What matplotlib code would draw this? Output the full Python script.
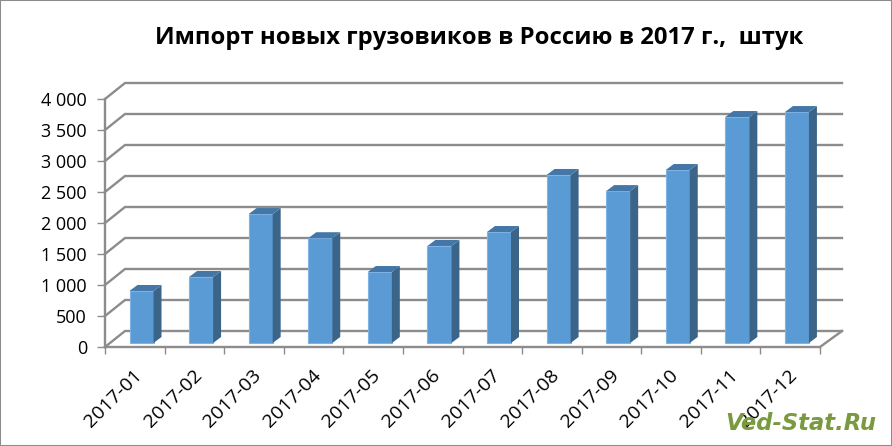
import matplotlib
matplotlib.use("Agg")
import matplotlib.pyplot as plt
from matplotlib.patches import Polygon, Rectangle

months = ["2017-01", "2017-02", "2017-03", "2017-04", "2017-05", "2017-06",
          "2017-07", "2017-08", "2017-09", "2017-10", "2017-11", "2017-12"]
imports = [839, 1065, 2080, 1690, 1145, 1565, 1790, 2710, 2450, 2790, 3645, 3725]
y_ticks = [0, 500, 1000, 1500, 2000, 2500, 3000, 3500, 4000]
y_labels = ["0", "500", "1 000", "1 500", "2 000", "2 500", "3 000", "3 500", "4 000"]

W, H = 892, 446
plt.rcParams['font.family'] = ['Open Sans', 'DejaVu Sans']

fig = plt.figure(figsize=(W / 100, H / 100), dpi=100)
ax = fig.add_axes([105 / W, (H - 347) / H, 715 / W, 248 / H])
ax.set_xlim(0, 12)
ax.set_ylim(0, 4000)

# one pixel in data units, for the fake 3d depth
px = 12 / 715
py = 4000 / 248
GRAY = "#8c8c8c"

# back wall lines and the diagonals going to them
for t in y_ticks:
    ax.plot([0, 20 * px, 12 + 22 * px], [t, t + 16 * py, t + 16 * py], color=GRAY, lw=1.7,
            clip_on=False, zorder=1, solid_joinstyle="miter")
ax.plot([12, 12 + 22 * px], [0, 16 * py], color=GRAY, lw=1.7, clip_on=False, zorder=1)

# bars: front face with bar(), side and top as polygons
bar_w = 24 * px
lift = 4 * py
dx = 8 * px
dy = 6 * py
for i, v in enumerate(imports):
    left = i + 24.5 * px
    right = left + bar_w
    top = v + lift
    ax.bar(left, v, width=bar_w, bottom=lift, align="edge", color="#5b9bd5", edgecolor="#7fb3e6",
           linewidth=0.8, clip_on=False, zorder=3)
    ax.add_patch(Polygon([(right, lift), (right + dx, lift + dy), (right + dx, top + dy), (right, top)],
                         closed=True, color="#3a6589", lw=0, clip_on=False, zorder=3))
    ax.add_patch(Polygon([(left, top), (left + dx, top + dy), (right + dx, top + dy), (right, top)],
                         closed=True, color="#4477a7", lw=0, clip_on=False, zorder=3))

for side in ["top", "right"]:
    ax.spines[side].set_visible(False)
for side in ["left", "bottom"]:
    ax.spines[side].set_color(GRAY)
    ax.spines[side].set_linewidth(1.7)
    ax.spines[side].set_zorder(4)
ax.patch.set_alpha(0)

ax.set_yticks(y_ticks)
ax.set_yticklabels(y_labels, fontsize=13, color="black")
ax.set_xticks(range(13))
ax.set_xticklabels([""] * 13)
ax.set_xticks([i + 0.47 for i in range(12)], minor=True)
ax.set_xticklabels(months, minor=True, fontsize=14, rotation=45, ha="right", rotation_mode="anchor")
ax.tick_params(axis="y", length=6, width=1, color=GRAY, pad=7)
ax.tick_params(axis="x", which="major", length=5, width=1, color=GRAY)
ax.tick_params(axis="x", which="minor", length=0, pad=14)

fig.text(479 / W, (H - 38) / H, "Импорт новых грузовиков в Россию в 2017 г.,  штук", fontsize=17.2,
         fontweight="bold", ha="center", va="center", color="black")
fig.text(876 / W, (H - 423) / H, "Ved-Stat.Ru", fontsize=16.3, fontweight="bold", style="italic",
         family="DejaVu Sans", ha="right", va="center", color="#7a9a3f")

fig.add_artist(Rectangle((0, 0), 1, 1, transform=fig.transFigure, fill=False, edgecolor="#8c8c8c", lw=1.5))

fig.savefig("out.png", dpi=100)
